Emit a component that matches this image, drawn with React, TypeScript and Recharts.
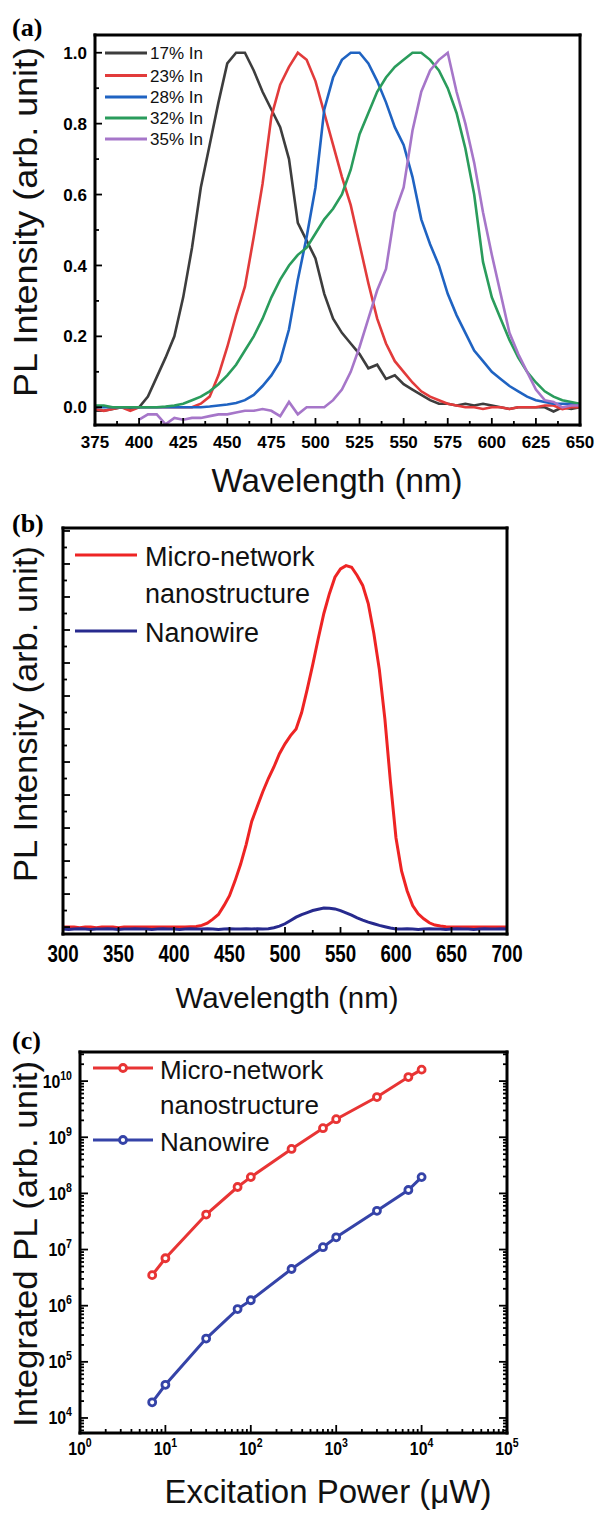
import React from 'react';
import { LineChart, Line, XAxis, YAxis } from 'recharts';

const SANS = '"Liberation Sans", Arial, Helvetica, sans-serif';
const SERIF = '"Liberation Serif", "Times New Roman", serif';

// ---------------- Panel (a) data ----------------
const wavelengthA = [
  375, 380, 385, 390, 395, 400, 405, 410,
  415, 420, 425, 430, 435, 440, 445, 450,
  455, 460, 465, 470, 475, 480, 485, 490,
  495, 500, 505, 510, 515, 520, 525, 530,
  535, 540, 545, 550, 555, 560, 565, 570,
  575, 580, 585, 590, 595, 600, 605, 610,
  615, 620, 625, 630, 635, 640, 645, 650,
];
const in17 = [
  -0.01, -0.01, -0.005, 0.0, -0.005, 0.0, 0.03, 0.085,
  0.14, 0.2, 0.31, 0.45, 0.62, 0.74, 0.86, 0.97,
  1.0, 1.0, 0.95, 0.89, 0.84, 0.79, 0.7, 0.52,
  0.47, 0.42, 0.32, 0.25, 0.21, 0.18, 0.15, 0.11,
  0.12, 0.08, 0.09, 0.065, 0.05, 0.035, 0.02, 0.01,
  0.01, 0.005, 0.01, 0.005, 0.01, 0.005, 0.0, -0.005,
  0.0, 0.0, 0.0, 0.0, -0.012, 0.0, -0.005, 0.0,
];
const in23 = [
  -0.005, -0.01, -0.005, 0.0, -0.01, 0.0, 0.0, 0.0,
  0.0, 0.0, 0.0, 0.0, 0.01, 0.03, 0.09, 0.17,
  0.26, 0.34, 0.48, 0.63, 0.82, 0.91, 0.96, 1.0,
  0.98, 0.92, 0.83, 0.74, 0.65, 0.57, 0.46, 0.35,
  0.25, 0.18, 0.13, 0.1, 0.07, 0.045, 0.03, 0.02,
  0.01, 0.005, 0.0, 0.0, -0.005, 0.0, 0.0, -0.005,
  0.0, 0.0, 0.0, 0.005, 0.005, -0.005, 0.0, 0.0,
];
const in28 = [
  0, 0, 0, 0, 0, 0, 0, 0,
  0, 0, 0, 0, 0, 0.002, 0.005, 0.008,
  0.012, 0.02, 0.035, 0.06, 0.09, 0.13, 0.22, 0.36,
  0.48, 0.62, 0.84, 0.93, 0.98, 1.0, 1.0, 0.97,
  0.92, 0.86, 0.79, 0.74, 0.65, 0.53, 0.46, 0.4,
  0.32, 0.26, 0.21, 0.16, 0.13, 0.1, 0.08, 0.06,
  0.045, 0.03, 0.02, 0.015, 0.01, 0.01, 0.01, 0.01,
];
const in32 = [
  0.005, 0.005, 0.0, 0.0, 0.0, 0.0, 0.0, 0.0,
  0.002, 0.005, 0.01, 0.02, 0.03, 0.045, 0.065, 0.09,
  0.12, 0.16, 0.2, 0.25, 0.31, 0.36, 0.4, 0.43,
  0.45, 0.49, 0.53, 0.56, 0.6, 0.67, 0.77, 0.83,
  0.89, 0.93, 0.96, 0.98, 1.0, 1.0, 0.98, 0.95,
  0.9, 0.83, 0.73, 0.6, 0.41, 0.31, 0.25, 0.19,
  0.14, 0.1, 0.07, 0.045, 0.03, 0.02, 0.015, 0.01,
];
const in35 = [
  null, null, null, null, null, -0.035, -0.02, -0.02,
  -0.048, -0.03, -0.035, -0.03, -0.03, -0.025, -0.02, -0.02,
  -0.015, -0.01, -0.01, -0.005, -0.01, -0.025, 0.015, -0.02,
  0.0, 0.0, 0.0, 0.02, 0.05, 0.1, 0.17, 0.25,
  0.33, 0.39, 0.55, 0.62, 0.78, 0.89, 0.95, 0.98,
  1.0, 0.89, 0.8, 0.69, 0.55, 0.43, 0.32, 0.21,
  0.15, 0.1, 0.05, 0.02, 0.015, 0.0, 0.005, 0.005,
];
const seriesA = [
  { key: 'in17', name: '17% In', color: '#3d3d3d', values: in17 },
  { key: 'in23', name: '23% In', color: '#e23b3b', values: in23 },
  { key: 'in28', name: '28% In', color: '#1f63c2', values: in28 },
  { key: 'in32', name: '32% In', color: '#2a9c5c', values: in32 },
  { key: 'in35', name: '35% In', color: '#a676c9', values: in35 },
];
const xMajorA = [375, 400, 425, 450, 475, 500, 525, 550, 575, 600, 625, 650];
const xMinorA = [387.5, 412.5, 437.5, 462.5, 487.5, 512.5, 537.5, 562.5, 587.5, 612.5, 637.5];
const yMajorA = [0, 0.2, 0.4, 0.6, 0.8, 1.0];
const yMinorA = [0.1, 0.3, 0.5, 0.7, 0.9];

// ---------------- Panel (b) data ----------------
const wavelengthB = [
  300, 305, 310, 315, 320, 325, 330, 335, 340, 345,
  350, 355, 360, 365, 370, 375, 380, 385, 390, 395,
  400, 405, 410, 415, 420, 425, 430, 435, 440, 445,
  450, 455, 460, 465, 470, 475, 480, 485, 490, 495,
  500, 505, 510, 515, 520, 525, 530, 535, 540, 545,
  550, 555, 560, 565, 570, 575, 580, 585, 590, 595,
  600, 605, 610, 615, 620, 625, 630, 635, 640, 645,
  650, 655, 660, 665, 670, 675, 680, 685, 690, 695,
  700,
];
const microNetwork = [
  0, 0, 0, -0.02, 0, 0, -0.02, 0, 0, 0,
  -0.02, 0, 0, 0, 0, 0, 0, 0, 0, 0,
  0, 0, 0, 0.01, 0.02, 0.05, 0.12, 0.24, 0.38, 0.65,
  0.95, 1.4, 1.9, 2.5, 3.2, 3.65, 4.1, 4.5, 4.85, 5.25,
  5.55, 5.8, 6.0, 6.5, 7.2, 7.95, 8.75, 9.5, 10.1, 10.6,
  10.85, 10.95, 10.9, 10.65, 10.35, 9.8, 8.9, 7.8, 6.3, 4.4,
  2.7, 1.7, 1.1, 0.65, 0.4, 0.25, 0.13, 0.06, 0.03, 0.01,
  0, 0, 0, 0, 0, 0, 0, 0, 0, 0,
  0,
];
const nanowire = [
  -0.06, -0.07, -0.06, -0.05, -0.06, -0.07, -0.06, -0.06, -0.05, -0.06,
  -0.07, -0.06, -0.06, -0.05, -0.06, -0.06, -0.07, -0.06, -0.05, -0.06,
  -0.06, -0.07, -0.06, -0.05, -0.06, -0.06, -0.05, -0.06, -0.07, -0.06,
  -0.05, -0.06, -0.06, -0.05, -0.06, -0.05, -0.06, -0.05, -0.02, 0.03,
  0.1, 0.2, 0.3, 0.38, 0.44, 0.5, 0.54, 0.58, 0.57, 0.55,
  0.5, 0.43, 0.36, 0.28, 0.21, 0.15, 0.1, 0.05, 0.01, -0.03,
  -0.06, -0.06, -0.05, -0.06, -0.07, -0.06, -0.05, -0.06, -0.06, -0.07,
  -0.06, -0.05, -0.06, -0.06, -0.07, -0.06, -0.05, -0.06, -0.06, -0.05,
  -0.06,
];
const seriesB = [
  { key: 'micro', lines: ['Micro-network', 'nanostructure'], color: '#ee2424', values: microNetwork },
  { key: 'wire', lines: ['Nanowire'], color: '#272a8e', values: nanowire },
];
const xMajorB = [300, 350, 400, 450, 500, 550, 600, 650, 700];
const xMinorB = [325, 375, 425, 475, 525, 575, 625, 675];
const yMajorB = [0, 1, 2, 3, 4, 5, 6, 7, 8, 9, 10, 11, 12];
const yMinorB = [0.5, 1.5, 2.5, 3.5, 4.5, 5.5, 6.5, 7.5, 8.5, 9.5, 10.5, 11.5];

// ---------------- Panel (c) data ----------------
const power = [7, 10, 30, 70, 100, 300, 700, 1000, 3000, 7000, 10000];
const microPL = [3.5e6, 7e6, 4.2e7, 1.3e8, 1.95e8, 6.2e8, 1.45e9, 2.1e9, 5.2e9, 1.18e10, 1.6e10];
const wirePL = [1.9e4, 3.9e4, 2.6e5, 8.7e5, 1.25e6, 4.5e6, 1.1e7, 1.65e7, 4.9e7, 1.15e8, 1.95e8];
const seriesC = [
  { key: 'micro', lines: ['Micro-network', 'nanostructure'], color: '#e83434', values: microPL },
  { key: 'wire', lines: ['Nanowire'], color: '#3543a8', values: wirePL },
];
const xMajorC = [1, 10, 100, 1000, 10000, 100000];
const yMajorC = [1e4, 1e5, 1e6, 1e7, 1e8, 1e9, 1e10];
const minorLog = (from: number, to: number, lo: number, hi: number) => {
  const out: number[] = [];
  for (let e = from; e <= to; e++) {
    for (let m = 2; m <= 9; m++) {
      const v = m * Math.pow(10, e);
      if (v > lo && v < hi) out.push(v);
    }
  }
  return out;
};
const X_DOMAIN_C: [number, number] = [1, 100000];
const Y_DOMAIN_C: [number, number] = [5.4e3, 3.3e10];
const xMinorC = minorLog(0, 4, X_DOMAIN_C[0], X_DOMAIN_C[1]);
const yMinorC = minorLog(3, 10, Y_DOMAIN_C[0], Y_DOMAIN_C[1]);

// ---------------- Build tables ----------------
const dataA = wavelengthA.map((w, i) => {
  const row: Record<string, number | null> = { w };
  seriesA.forEach((s) => { row[s.key] = s.values[i]; });
  return row;
});
const dataB = wavelengthB.map((w, i) => {
  const row: Record<string, number> = { w };
  seriesB.forEach((s) => { row[s.key] = s.values[i]; });
  return row;
});
const dataC = power.map((p, i) => {
  const row: Record<string, number> = { p };
  seriesC.forEach((s) => { row[s.key] = s.values[i]; });
  return row;
});

const sortNum = (a: number[]) => [...a].sort((x, y) => x - y);

// ---------------- Tick renderer ----------------
type Side = 'bottom' | 'left' | 'top' | 'right';
interface TickOpts {
  side: Side;
  majors: number[];
  majorLen: number;
  minorLen: number;
  label?: (v: number) => React.ReactNode;
  offset?: number;
  fontSize?: number;
  scaleX?: number;
}
const inList = (v: number, arr: number[]) =>
  arr.some((a) => Math.abs(a - v) <= Math.abs(a) * 1e-9 + 1e-9);

function makeTick(o: TickOpts) {
  return function Tick(props: any) {
    const { x, y, payload } = props;
    const v = payload.value as number;
    const major = inList(v, o.majors);
    const len = major ? o.majorLen : o.minorLen;
    let x2 = x;
    let y2 = y;
    if (o.side === 'bottom') y2 = y - len;
    else if (o.side === 'top') y2 = y + len;
    else if (o.side === 'left') x2 = x + len;
    else x2 = x - len;
    let lab: React.ReactNode = null;
    if (major && o.label) {
      const fs = o.fontSize ?? 16;
      const sx = o.scaleX ?? 1;
      if (o.side === 'bottom') {
        lab = (
          <text x={0} y={0} transform={`translate(${x},${y + (o.offset ?? 20)}) scale(${sx},1)`}
            textAnchor="middle" fontFamily={SANS} fontWeight="bold" fontSize={fs} fill="#000">
            {o.label(v)}
          </text>
        );
      } else if (o.side === 'left') {
        lab = (
          <text x={0} y={0} transform={`translate(${x - (o.offset ?? 8)},${y + fs * 0.36}) scale(${sx},1)`}
            textAnchor="end" fontFamily={SANS} fontWeight="bold" fontSize={fs} fill="#000">
            {o.label(v)}
          </text>
        );
      }
    }
    return (
      <g>
        <line x1={x} y1={y} x2={x2} y2={y2} stroke="#000" strokeWidth={1.8} />
        {lab}
      </g>
    );
  };
}

const fmtA = (v: number) => v.toFixed(1);
const fmtInt = (v: number) => String(v);
const fmtPow = (v: number) => (
  <>
    <tspan>10</tspan>
    <tspan dy={-8} fontSize={12}>{String(Math.round(Math.log10(v)))}</tspan>
  </>
);

const frame = { stroke: '#000', strokeWidth: 3, strokeLinecap: 'square' as const };

// ---------------- Charts ----------------
// Axes are 1px thick boxes, so every margin below is the plot edge minus 1.
function PanelA() {
  return (
    <LineChart width={596} height={510} data={dataA} margin={{ top: 34, right: 15, bottom: 84, left: 94 }}>
      <XAxis dataKey="w" type="number" domain={[375, 650]} allowDataOverflow height={1}
        ticks={sortNum([...xMajorA, ...xMinorA])} interval={0} tickSize={0} tickMargin={0} tickLine={false}
        axisLine={frame}
        tick={makeTick({ side: 'bottom', majors: xMajorA, majorLen: 7, minorLen: 4, label: fmtInt, offset: 23, fontSize: 17 })} />
      <XAxis xAxisId="top" orientation="top" type="number" domain={[375, 650]} allowDataOverflow height={1}
        ticks={[375, 650]} tickSize={0} tickMargin={0} tick={false} tickLine={false} axisLine={frame} />
      <YAxis type="number" domain={[-0.05, 1.05]} allowDataOverflow width={1}
        ticks={sortNum([...yMajorA, ...yMinorA])} interval={0} tickSize={0} tickMargin={0} tickLine={false}
        axisLine={frame}
        tick={makeTick({ side: 'left', majors: yMajorA, majorLen: 7, minorLen: 4, label: fmtA, offset: 8, fontSize: 17 })} />
      <YAxis yAxisId="right" orientation="right" type="number" domain={[-0.05, 1.05]} allowDataOverflow width={1}
        ticks={[0, 1]} tickSize={0} tickMargin={0} tick={false} tickLine={false} axisLine={frame} />
      {seriesA.map((s) => (
        <Line key={s.key} dataKey={s.key} name={s.name} type="linear" stroke={s.color} strokeWidth={2.6}
          dot={false} isAnimationActive={false} connectNulls={false} />
      ))}
    </LineChart>
  );
}

function PanelB() {
  return (
    <LineChart width={596} height={510} data={dataB} margin={{ top: 17, right: 88, bottom: 85, left: 62 }}>
      <XAxis dataKey="w" type="number" domain={[300, 700]} allowDataOverflow height={1}
        ticks={sortNum([...xMajorB, ...xMinorB])} interval={0} tickSize={0} tickMargin={0} tickLine={false}
        axisLine={frame}
        tick={makeTick({ side: 'bottom', majors: xMajorB, majorLen: 7, minorLen: 4, label: fmtInt, offset: 28, fontSize: 24, scaleX: 0.78 })} />
      <XAxis xAxisId="top" orientation="top" type="number" domain={[300, 700]} allowDataOverflow height={1}
        ticks={[300, 700]} tickSize={0} tickMargin={0} tick={false} tickLine={false} axisLine={frame} />
      <YAxis type="number" domain={[-0.21, 12.09]} allowDataOverflow width={1}
        ticks={sortNum([...yMajorB, ...yMinorB])} interval={0} tickSize={0} tickMargin={0} tickLine={false}
        axisLine={frame}
        tick={makeTick({ side: 'left', majors: yMajorB, majorLen: 7, minorLen: 4 })} />
      <YAxis yAxisId="right" orientation="right" type="number" domain={[-0.21, 12.09]} allowDataOverflow width={1}
        ticks={[0, 12]} tickSize={0} tickMargin={0} tick={false} tickLine={false} axisLine={frame} />
      {seriesB.map((s) => (
        <Line key={s.key} dataKey={s.key} name={s.lines.join(' ')} type="linear" stroke={s.color} strokeWidth={3}
          dot={false} isAnimationActive={false} />
      ))}
    </LineChart>
  );
}

function PanelC() {
  return (
    <LineChart width={596} height={495} data={dataC} margin={{ top: 31, right: 88, bottom: 81, left: 79 }}>
      <XAxis dataKey="p" type="number" scale="log" domain={X_DOMAIN_C} allowDataOverflow height={1}
        ticks={sortNum([...xMajorC, ...xMinorC])} interval={0} tickSize={0} tickMargin={0} tickLine={false}
        axisLine={frame}
        tick={makeTick({ side: 'bottom', majors: xMajorC, majorLen: 8, minorLen: 4, label: fmtPow, offset: 22, fontSize: 18, scaleX: 0.88 })} />
      <XAxis xAxisId="top" orientation="top" type="number" scale="log" domain={X_DOMAIN_C} allowDataOverflow height={1}
        ticks={sortNum([...xMajorC, ...xMinorC])} interval={0} tickSize={0} tickMargin={0} tickLine={false}
        axisLine={frame}
        tick={makeTick({ side: 'top', majors: xMajorC, majorLen: 8, minorLen: 4 })} />
      <YAxis type="number" scale="log" domain={Y_DOMAIN_C} allowDataOverflow width={1}
        ticks={sortNum([...yMajorC, ...yMinorC])} interval={0} tickSize={0} tickMargin={0} tickLine={false}
        axisLine={frame}
        tick={makeTick({ side: 'left', majors: yMajorC, majorLen: 8, minorLen: 4, label: fmtPow, offset: 8, fontSize: 18, scaleX: 0.88 })} />
      <YAxis yAxisId="right" orientation="right" type="number" scale="log" domain={Y_DOMAIN_C} allowDataOverflow width={1}
        ticks={sortNum([...yMajorC, ...yMinorC])} interval={0} tickSize={0} tickMargin={0} tickLine={false}
        axisLine={frame}
        tick={makeTick({ side: 'right', majors: yMajorC, majorLen: 8, minorLen: 4 })} />
      {seriesC.map((s) => (
        <Line key={s.key} dataKey={s.key} name={s.lines.join(' ')} type="linear" stroke={s.color} strokeWidth={3}
          dot={{ r: 3.5, stroke: s.color, strokeWidth: 2.8, fill: '#ffffff' }}
          isAnimationActive={false} />
      ))}
    </LineChart>
  );
}

// ---------------- Overlay: titles, panel letters, legends ----------------
function Overlay() {
  const yTitle = (cx: number, cy: number, text: string, len: number, fs: number) => (
    <text x={cx} y={cy} transform={`rotate(-90 ${cx} ${cy})`} textAnchor="middle" fontFamily={SANS}
      fontSize={fs} fill="#111" textLength={len} lengthAdjust="spacingAndGlyphs">{text}</text>
  );
  const xTitle = (cx: number, by: number, text: string, len: number, fs: number) => (
    <text x={cx} y={by} textAnchor="middle" fontFamily={SANS} fontSize={fs} fill="#111"
      textLength={len} lengthAdjust="spacingAndGlyphs">{text}</text>
  );
  const letter = (x: number, y: number, t: string) => (
    <text x={x} y={y} fontFamily={SERIF} fontWeight="bold" fontSize={26} fill="#000">{t}</text>
  );
  const legendAY = [53, 75.5, 97, 118, 139];
  return (
    <svg width={596} height={1515} style={{ position: 'absolute', left: 0, top: 0, pointerEvents: 'none' }}>
      {letter(12, 36, '(a)')}
      {letter(12, 532, '(b)')}
      {letter(12, 1049, '(c)')}

      {yTitle(37, 222, 'PL Intensity (arb. unit)', 350, 34)}
      {xTitle(337, 492, 'Wavelength (nm)', 251, 33)}
      {yTitle(37, 714, 'PL Intensity (arb. unit)', 336, 34)}
      {xTitle(287, 1008, 'Wavelength (nm)', 223, 30)}
      {yTitle(37, 1244, 'Integrated PL (arb. unit)', 366, 34)}
      {xTitle(328, 1503, 'Excitation Power (\u03bcW)', 327, 33)}

      {seriesA.map((s, i) => (
        <g key={s.key}>
          <line x1={105} x2={147} y1={legendAY[i]} y2={legendAY[i]} stroke={s.color} strokeWidth={3} />
          <text x={150} y={legendAY[i] + 6} fontFamily={SANS} fontSize={17} fill="#111">{s.name}</text>
        </g>
      ))}

      {seriesB.map((s, i) => {
        const ly = i === 0 ? 555 : 631;
        return (
          <g key={s.key}>
            <line x1={75} x2={137} y1={ly} y2={ly} stroke={s.color} strokeWidth={3} />
            {s.lines.map((t, j) => (
              <text key={t} x={145} y={ly + 11 + j * 37} fontFamily={SANS} fontSize={27} fill="#111">{t}</text>
            ))}
          </g>
        );
      })}

      {seriesC.map((s, i) => {
        const ly = i === 0 ? 1068 : 1140;
        return (
          <g key={s.key}>
            <line x1={93} x2={153} y1={ly} y2={ly} stroke={s.color} strokeWidth={3} />
            <circle cx={123} cy={ly} r={3.5} stroke={s.color} strokeWidth={2.8} fill="#ffffff" />
            {s.lines.map((t, j) => (
              <text key={t} x={160} y={ly + 11 + j * 35} fontFamily={SANS} fontSize={26} fill="#111">{t}</text>
            ))}
          </g>
        );
      })}
    </svg>
  );
}

export default function App() {
  return (
    <div style={{ position: 'absolute', left: 0, top: 0, width: 596, height: 1515, background: '#fff', overflow: 'hidden' }}>
      <div style={{ position: 'absolute', left: 0, top: 0 }}><PanelA /></div>
      <div style={{ position: 'absolute', left: 0, top: 510 }}><PanelB /></div>
      <div style={{ position: 'absolute', left: 0, top: 1020 }}><PanelC /></div>
      <Overlay />
    </div>
  );
}
